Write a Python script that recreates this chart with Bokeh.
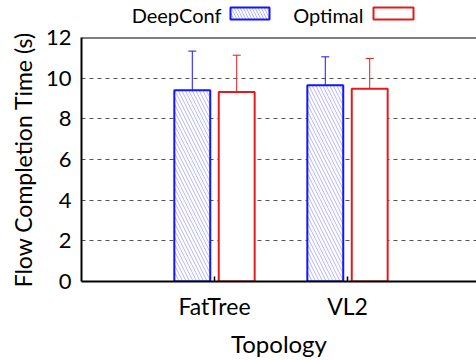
from bokeh.plotting import figure
from bokeh.layouts import column
from bokeh.models import (ColumnDataSource, Range1d, FixedTicker, Whisker, Span, TeeHead)
from bokeh.core.properties import value
from bokeh.transform import dodge
from bokeh.embed import file_html
from bokeh.resources import INLINE

categories = ["FatTree", "VL2"]
deepconf = [9.40, 9.65]
deepconf_low = [0.34, 0.29]
deepconf_high = [11.33, 11.05]
optimal = [9.32, 9.48]
optimal_low = [0.34, 0.32]
optimal_high = [11.13, 10.97]
y_ticks = [0, 2, 4, 6, 8, 10, 12]
series_names = ["DeepConf", "Optimal"]

FONT = "Lato"
BLUE = "#1414ff"
RED = "#e41a1c"
HATCH = "#b4b6f6"
W = 476
LEG_H = 26
LEFT = 81

# ---------- legend strip (label, then swatch) ----------
# column() aligns the frames, so this strip's frame starts at x = LEFT
lg = figure(width=W, height=LEG_H, x_range=Range1d(LEFT, W), y_range=Range1d(0, LEG_H),
            output_backend="svg", toolbar_location=None, min_border=0,
            min_border_left=LEFT, min_border_right=0)
lg.axis.visible = False
lg.grid.visible = False
lg.outline_line_color = None
text_right = [221, 363]
box_left = [230, 373]
lg.text(x=text_right, y=[LEG_H - 14] * 2, text=series_names, text_align="right",
        text_baseline="middle", text_font=value(FONT), text_font_size="20px",
        text_color="black")
lg.quad(left=box_left[0], right=box_left[0] + 39, bottom=LEG_H - 19, top=LEG_H - 7,
        fill_color="white", line_color=BLUE, line_width=2,
        hatch_pattern="\\", hatch_color=HATCH, hatch_scale=6, hatch_weight=1)
lg.quad(left=box_left[1], right=box_left[1] + 40, bottom=LEG_H - 19, top=LEG_H - 7,
        fill_color="white", line_color=RED, line_width=2)

# ---------- main chart ----------
xpos = list(range(len(categories)))
src = ColumnDataSource(dict(x=xpos, dc=deepconf, dcl=deepconf_low, dch=deepconf_high,
                            op=optimal, opl=optimal_low, oph=optimal_high))

p = figure(width=W, height=360 - LEG_H, x_range=Range1d(-1, 1.97), y_range=Range1d(0, 12),
           output_backend="svg", toolbar_location=None,
           min_border_left=LEFT, min_border_right=0, min_border_top=37 - LEG_H,
           min_border_bottom=74)
p.outline_line_color = None
p.background_fill_color = "white"

off = 0.167
w = 0.27
p.vbar(x=dodge("x", -off, range=p.x_range), top="dc", width=w, source=src,
       fill_color="white", line_color=BLUE, line_width=2,
       hatch_pattern="\\", hatch_color=HATCH, hatch_scale=7, hatch_weight=1)
p.vbar(x=dodge("x", off, range=p.x_range), top="op", width=w, source=src,
       fill_color="white", line_color=RED, line_width=2)

p.add_layout(Whisker(source=src, base=dodge("x", -off, range=p.x_range), upper="dch", lower="dcl",
                     line_color=BLUE, line_width=1,
                     upper_head=TeeHead(size=8, line_color=BLUE, line_width=1),
                     lower_head=TeeHead(size=8, line_color=BLUE, line_width=1)))
p.add_layout(Whisker(source=src, base=dodge("x", off, range=p.x_range), upper="oph", lower="opl",
                     line_color=RED, line_width=1,
                     upper_head=TeeHead(size=8, line_color=RED, line_width=1),
                     lower_head=TeeHead(size=8, line_color=RED, line_width=1)))

p.add_layout(Span(location=12, dimension="width", line_color="black", line_width=2))

p.xaxis.ticker = FixedTicker(ticks=xpos)
p.xaxis.major_label_overrides = {i: c for i, c in enumerate(categories)}
p.yaxis.ticker = FixedTicker(ticks=y_ticks)
p.xaxis.axis_label = "Topology"
p.yaxis.axis_label = "Flow Completion Time (s)"
for ax in (p.xaxis[0], p.yaxis[0]):
    ax.axis_line_color = "black"
    ax.axis_line_width = 2
    ax.major_label_text_font = FONT
    ax.major_label_text_font_size = "22px"
    ax.major_label_text_color = "black"
    ax.axis_label_text_font = FONT
    ax.axis_label_text_font_size = "23px"
    ax.axis_label_text_font_style = "normal"
    ax.axis_label_text_color = "black"
    ax.minor_tick_line_color = None
p.xaxis.axis_label_text_font_size = "24px"
p.xaxis.major_label_text_font_size = "23px"
p.xaxis.major_tick_in = 5
p.xaxis.major_tick_out = 0
p.xaxis.major_tick_line_width = 1.5
p.yaxis.major_tick_in = 0
p.yaxis.major_tick_out = 0
p.xaxis.major_label_standoff = 10
p.yaxis.major_label_standoff = 10
p.xaxis.axis_label_standoff = 6
p.yaxis.axis_label_standoff = 6
p.xgrid.grid_line_color = None
p.ygrid.grid_line_color = "#555555"
p.ygrid.grid_line_dash = "4 4"
p.ygrid.grid_line_width = 1

layout = column(lg, p, spacing=0)
open("out.html", "w").write(file_html(layout, INLINE))
